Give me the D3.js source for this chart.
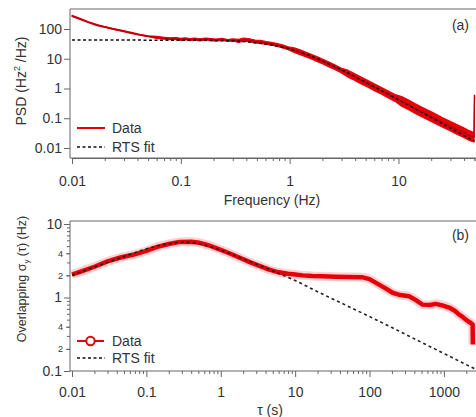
<!DOCTYPE html>
<html><head><meta charset="utf-8">
<script src="https://cdn.jsdelivr.net/npm/d3@7"></script>
<style>
html,body{margin:0;padding:0;background:#fff;}
svg{display:block;font-family:"Liberation Sans",Arial,sans-serif;}
</style></head>
<body><svg id="c" width="476" height="417"></svg>
<script>
// ---------- data: panel (a) PSD ----------
const psdFreq = [0.010,0.012,0.014,0.017,0.020,0.024,0.029,0.035,0.042,0.050,
  0.060,0.070,0.080,0.090,0.10,0.11,0.12,0.135,0.15,0.17,0.19,0.21,0.24,0.27,0.30,
  0.34,0.38,0.43,0.48,0.54,0.61,0.68,0.77,0.86,0.97,
  1.1,1.25,1.4,1.6,1.8,2.0,2.3,2.6,3.0,
  3.4,3.9,4.5,5.2,6.0,7.0,8.0,9.3,
  10.7,12.4,14.3,16.5,19,22,25.5,29.5,34,39,44,47.5,49.5,50];
const psdData = [275,215,172,135,117,100,86,74,64,57,
  52,49,47,48,45,47,44,46,43,46,44,42,45,41,43,
  40,44,42,38,37,34,32,29,26,22.5,
  19.5,16.5,14,11.5,9.6,8.2,6.4,5.2,4.0,
  3.2,2.5,1.9,1.45,1.1,0.83,0.64,0.48,
  0.37,0.28,0.21,0.16,0.125,0.095,0.072,0.056,0.043,0.034,0.027,0.024,0.023,0.6];
const psdScatter = [1.04,1.04,1.04,1.04,1.04,1.04,1.04,1.04,1.04,1.04,
  1.08,1.08,1.08,1.08,1.08,1.08,1.08,1.08,1.08,1.08,1.08,1.08,1.08,1.08,1.08,
  1.12,1.12,1.12,1.12,1.12,1.12,1.12,1.12,1.12,1.12,
  1.2,1.2,1.2,1.2,1.2,1.2,1.2,1.2,1.2,
  1.3,1.3,1.3,1.3,1.3,1.3,1.3,1.3,
  1.45,1.45,1.45,1.45,1.45,1.45,1.45,1.45,1.45,1.45,1.45,1.45,1.45,1.0];
const psdFitFreq = [0.01,0.1,0.2,0.3,0.5,0.7,1,1.5,2,3,5,7,10,15,20,30,50];
const psdFit = [42.5,42,41,39.5,34,28.5,21.3,13.1,8.5,4.25,1.63,0.85,0.42,0.188,0.106,0.047,0.017];
const psdXTicks = [0.01,0.1,1,10];
const psdYTicks = [0.01,0.1,1,10,100];
const psdYLabels = ["0.01","0.1","1","10","100"];

// ---------- data: panel (b) Allan deviation ----------
const adevTau = [0.01,0.014,0.02,0.03,0.045,0.066,0.1,0.14,0.2,0.28,0.4,0.52,0.7,1.0,1.3,1.8,2.5,3.3,4.5,6,8,10,
  12.6,17,23,35,50,81,100,122,160,204,260,340,420,515,640,775,950,1175,1400,1590,1800,2080,2300,2430,2450];
const adevData = [2.05,2.3,2.62,3.1,3.5,3.81,4.3,4.89,5.35,5.71,5.75,5.54,5.1,4.45,4.0,3.47,3.0,2.7,2.39,2.2,2.1,2.05,
  2.0,1.96,1.94,1.92,1.9,1.88,1.78,1.58,1.35,1.16,1.08,1.04,0.92,0.80,0.79,0.82,0.78,0.73,0.66,0.59,0.54,0.48,0.45,0.43,0.23];
const adevFitTau = [0.01,0.02,0.05,0.1,0.2,0.3,0.5,1,2,5,10,20,50,100,200,500,1000,2000,2700];
const adevFit = [2.0,2.6,3.6,4.6,5.4,5.65,5.4,4.4,3.35,2.3,1.7,1.2,0.77,0.55,0.39,0.245,0.173,0.122,0.105];
const adevXTicks = [0.01,0.1,1,10,100,1000];
const adevYTicks = [0.1,1,10];
const adevYLabels = ["0.1","1","10"];
const adevYMinorLabelled = [0.2,0.4,2,4];
const adevYMinorText = ["2","4","2","4"];

// ---------- drawing ----------
const svg = d3.select("#c");
const RED = "#e5000a", AX = "#666", TXT = "#333";
const FS = 14;

function minorTicks(lo, hi) {
  const out = [];
  for (let e = Math.floor(Math.log10(lo)); e <= Math.ceil(Math.log10(hi)); e++) {
    for (let m = 2; m <= 9; m++) { const v = m * Math.pow(10, e); if (v >= lo * 0.999 && v <= hi * 1.001) out.push(v); }
  }
  return out;
}
function fmt(v){ return d3.format("~g")(v); }

// ---- Panel (a) ----
const xA = d3.scaleLog().domain([0.01, 50]).range([72, 474.5]);
const yA = d3.scaleLog().domain([0.01, 100]).range([148, 29]);
const gA = svg.append("g");
gA.append("defs").append("clipPath").attr("id","clipA").append("rect").attr("x",70).attr("y",9).attr("width",410).attr("height",149);

// band
const bandA = psdFreq.map((f,i)=>({f, lo: psdData[i]/psdScatter[i], hi: psdData[i]*psdScatter[i], v: psdData[i]}));
const pA = gA.append("g").attr("clip-path","url(#clipA)");
pA.append("path").datum(bandA)
  .attr("d", d3.area().x(d=>xA(d.f)).y0(d=>yA(d.lo)).y1(d=>yA(d.hi)))
  .attr("fill", RED).attr("stroke", RED).attr("stroke-width", 1.2).attr("stroke-linejoin","round");
pA.append("path").datum(bandA)
  .attr("d", d3.line().x(d=>xA(d.f)).y(d=>yA(d.v)))
  .attr("fill","none").attr("stroke","#b8000a").attr("stroke-width",1.3);
pA.append("path").datum(psdFitFreq.map((f,i)=>[f, psdFit[i]]))
  .attr("d", d3.line().curve(d3.curveMonotoneX).x(d=>xA(d[0])).y(d=>yA(d[1])))
  .attr("fill","none").attr("stroke","#111").attr("stroke-width",1.5).attr("stroke-dasharray","3,2.5");

// frame
gA.append("line").attr("x1",70).attr("x2",476).attr("y1",9).attr("y2",9).attr("stroke",AX).attr("stroke-width",1);
// axes
const axAx = gA.append("g").attr("transform","translate(0,158)")
  .call(d3.axisBottom(xA).tickValues(psdXTicks).tickFormat(fmt).tickSize(6).tickPadding(12));
const axAxm = gA.append("g").attr("transform","translate(0,158)")
  .call(d3.axisBottom(xA).tickValues(minorTicks(0.01,50)).tickFormat("").tickSize(3));
const axAy = gA.append("g").attr("transform","translate(70,0)")
  .call(d3.axisLeft(yA).tickValues(psdYTicks).tickFormat((d,i)=>psdYLabels[i]).tickSize(6).tickPadding(2));
[axAx,axAxm,axAy].forEach(a=>{
  a.select(".domain").attr("stroke",AX);
  a.selectAll(".tick line").attr("stroke",AX);
  a.selectAll("text").attr("fill",TXT).style("font-size",FS+"px").style("font-family",'"Liberation Sans",Arial,sans-serif');
});
axAx.select(".domain").attr("d","M70,0H476");
axAy.select(".domain").attr("d","M0,9V158");

gA.append("text").attr("x",272).attr("y",205).attr("text-anchor","middle").attr("fill",TXT).style("font-size",FS+"px").text("Frequency (Hz)");
const tA = gA.append("text").attr("transform","translate(26,81) rotate(-90)").attr("text-anchor","middle").attr("fill",TXT).style("font-size",FS+"px");
tA.append("tspan").text("PSD (Hz");
tA.append("tspan").attr("dy",-6).style("font-size","9px").text("2");
tA.append("tspan").attr("dy",6).text(" /Hz)");
gA.append("text").attr("x",469).attr("y",30).attr("text-anchor","end").attr("fill",TXT).style("font-size",FS+"px").text("(a)");

// legend (a)
gA.append("line").attr("x1",77).attr("x2",105).attr("y1",128).attr("y2",128).attr("stroke",RED).attr("stroke-width",2);
gA.append("text").attr("x",112).attr("y",133).attr("fill",TXT).style("font-size",FS+"px").text("Data");
gA.append("line").attr("x1",77).attr("x2",105).attr("y1",147).attr("y2",147).attr("stroke","#111").attr("stroke-width",1.5).attr("stroke-dasharray","3,2.5");
gA.append("text").attr("x",112).attr("y",152).attr("fill",TXT).style("font-size",FS+"px").text("RTS fit");

// ---- Panel (b) ----
const xB = d3.scaleLog().domain([0.01, 2700]).range([72, 476]);
const yB = d3.scaleLog().domain([0.1, 10]).range([371, 224]);
const gB = svg.append("g");
gB.append("defs").append("clipPath").attr("id","clipB").append("rect").attr("x",70).attr("y",221).attr("width",410).attr("height",150);
const pB = gB.append("g").attr("clip-path","url(#clipB)");
const dB = adevTau.map((t,i)=>[t, adevData[i]]);
const lineB = d3.line().curve(d3.curveMonotoneX).x(d=>xB(d[0])).y(d=>yB(d[1]));
pB.append("path").datum(dB).attr("d", lineB).attr("fill","none").attr("stroke","#ff9a9a").attr("stroke-opacity",0.45).attr("stroke-width",9).attr("stroke-linejoin","round");
pB.append("path").datum(dB).attr("d", d3.line().x(d=>xB(d[0])).y(d=>yB(d[1]))).attr("fill","none").attr("stroke",RED).attr("stroke-width",4.5).attr("stroke-linejoin","round");
pB.append("path").datum(adevFitTau.map((t,i)=>[t, adevFit[i]]))
  .attr("d", d3.line().curve(d3.curveMonotoneX).x(d=>xB(d[0])).y(d=>yB(d[1])))
  .attr("fill","none").attr("stroke","#222").attr("stroke-width",1.6).attr("stroke-dasharray","3,3");

gB.append("line").attr("x1",70).attr("x2",476).attr("y1",221).attr("y2",221).attr("stroke",AX).attr("stroke-width",1);
const bxM = gB.append("g").attr("transform","translate(0,371)")
  .call(d3.axisBottom(xB).tickValues(adevXTicks).tickFormat(fmt).tickSize(6).tickPadding(10));
const bxm = gB.append("g").attr("transform","translate(0,371)")
  .call(d3.axisBottom(xB).tickValues(minorTicks(0.01,2700)).tickFormat("").tickSize(3));
const byM = gB.append("g").attr("transform","translate(70,0)")
  .call(d3.axisLeft(yB).tickValues(adevYTicks).tickFormat((d,i)=>adevYLabels[i]).tickSize(6).tickPadding(2));
const bym = gB.append("g").attr("transform","translate(70,0)")
  .call(d3.axisLeft(yB).tickValues(minorTicks(0.1,10)).tickFormat("").tickSize(3));
const byl = gB.append("g").attr("transform","translate(70,0)")
  .call(d3.axisLeft(yB).tickValues(adevYMinorLabelled).tickFormat((d,i)=>adevYMinorText[i]).tickSize(4).tickPadding(3));
[bxM,bxm,byM,bym,byl].forEach(a=>{
  a.select(".domain").attr("stroke",AX);
  a.selectAll(".tick line").attr("stroke",AX);
  a.selectAll("text").attr("fill",TXT).style("font-size",FS+"px").style("font-family",'"Liberation Sans",Arial,sans-serif');
});
byl.selectAll("text").style("font-size","9px");
bxM.select(".domain").attr("d","M70,0H476");
bxm.select(".domain").remove();
byM.select(".domain").attr("d","M0,221V371");
bym.select(".domain").remove();
byl.select(".domain").remove();

gB.append("text").attr("x",270).attr("y",415).attr("text-anchor","middle").attr("fill",TXT).style("font-size",FS+"px").text("τ (s)");
const tB = gB.append("text").attr("transform","translate(26,279) rotate(-90)").attr("text-anchor","middle").attr("fill",TXT).style("font-size","12.5px");
tB.append("tspan").text("Overlapping σ");
tB.append("tspan").attr("dy",3).style("font-size","8px").text("y");
tB.append("tspan").attr("dy",-3).text(" (τ) (Hz)");
gB.append("text").attr("x",469).attr("y",240).attr("text-anchor","end").attr("fill",TXT).style("font-size",FS+"px").text("(b)");

// legend (b)
gB.append("line").attr("x1",77).attr("x2",104).attr("y1",341).attr("y2",341).attr("stroke",RED).attr("stroke-width",2);
gB.append("circle").attr("cx",90.5).attr("cy",341).attr("r",4.2).attr("fill","#fff").attr("stroke",RED).attr("stroke-width",2);
gB.append("text").attr("x",112).attr("y",346).attr("fill",TXT).style("font-size",FS+"px").text("Data");
gB.append("line").attr("x1",77).attr("x2",105).attr("y1",358).attr("y2",358).attr("stroke","#111").attr("stroke-width",1.5).attr("stroke-dasharray","3,2.5");
gB.append("text").attr("x",112).attr("y",363).attr("fill",TXT).style("font-size",FS+"px").text("RTS fit");
</script></body></html>
